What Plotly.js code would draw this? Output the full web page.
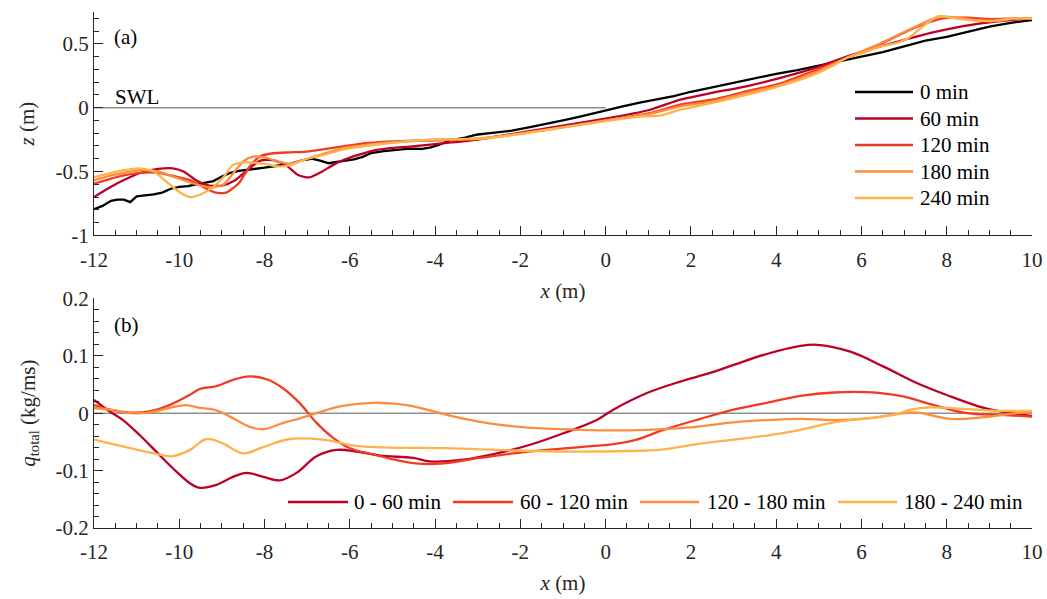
<!DOCTYPE html>
<html>
<head>
<meta charset="utf-8">
<script src="https://cdn.plot.ly/plotly-3.0.1.min.js"></script>
<style>
  html, body { margin: 0; padding: 0; background: #fff; }
  #chart { width: 1047px; height: 599px; }
</style>
</head>
<body>
<div id="chart"></div>
<script>
// ---------------- DATA ----------------
// Panel (a): bed profiles z(x)
const profileNames = ['0 min', '60 min', '120 min', '180 min', '240 min'];

const x0 = [-12, -11.8, -11.6, -11.45, -11.3, -11.15, -11.0, -10.8, -10.6, -10.4, -10.2, -10.0, -9.8, -9.6, -9.4, -9.2, -9.0, -8.8, -8.6, -8.3, -8.0, -7.7, -7.4, -7.1, -6.9, -6.7, -6.5, -6.3, -6.1, -5.9, -5.7, -5.5, -5.2, -4.9, -4.6, -4.3, -4.1, -3.9, -3.65, -3.3, -3.0, -2.6, -2.2, -1.8, -1.4, -1.0, -0.6, -0.3, 0, 0.4, 0.8, 1.2, 1.6, 2.0, 2.5, 3.0, 3.5, 4.0, 4.5, 5.0, 5.5, 6.0, 6.5, 7.0, 7.5, 8.0, 8.5, 9.0, 9.5, 10];
const z0 = [-0.795, -0.77, -0.73, -0.72, -0.72, -0.74, -0.695, -0.69, -0.68, -0.665, -0.635, -0.62, -0.615, -0.60, -0.585, -0.575, -0.54, -0.51, -0.495, -0.485, -0.47, -0.455, -0.44, -0.41, -0.40, -0.415, -0.435, -0.425, -0.415, -0.405, -0.385, -0.355, -0.34, -0.33, -0.32, -0.322, -0.31, -0.29, -0.255, -0.235, -0.21, -0.195, -0.18, -0.155, -0.13, -0.10, -0.07, -0.045, -0.02, 0.01, 0.04, 0.065, 0.09, 0.125, 0.16, 0.20, 0.235, 0.265, 0.295, 0.33, 0.36, 0.40, 0.435, 0.48, 0.525, 0.555, 0.595, 0.635, 0.665, 0.687];

const x60 = [-12, -11.6, -11.3, -10.9, -10.5, -10.15, -9.9, -9.6, -9.3, -9.0, -8.7, -8.35, -8.1, -7.8, -7.5, -7.2, -6.95, -6.65, -6.4, -6.15, -5.8, -5.45, -5.0, -4.6, -4.0, -3.0, -2.0, -1.0, 0, 1.0, 1.75, 2.5, 3.3, 4.1, 4.9, 5.65, 6.45, 7.2, 8.0, 8.8, 9.6, 10];
const z60 = [-0.70, -0.62, -0.567, -0.51, -0.48, -0.475, -0.50, -0.57, -0.61, -0.61, -0.57, -0.475, -0.415, -0.41, -0.45, -0.53, -0.546, -0.50, -0.45, -0.41, -0.37, -0.336, -0.315, -0.305, -0.285, -0.25, -0.195, -0.14, -0.085, -0.02, 0.063, 0.116, 0.168, 0.234, 0.31, 0.40, 0.48, 0.55, 0.614, 0.66, 0.69, 0.70];

const x120 = [-12, -11.6, -11.3, -10.9, -10.5, -10.15, -9.75, -9.45, -9.15, -8.9, -8.6, -8.35, -8.1, -7.8, -7.4, -7.0, -6.6, -6.2, -5.8, -5.0, -4.0, -3.0, -2.0, -1.0, 0, 1.0, 1.75, 2.5, 3.3, 4.1, 4.9, 5.65, 6.45, 7.2, 7.9, 8.5, 9.0, 9.6, 10];
const z120 = [-0.595, -0.555, -0.53, -0.51, -0.51, -0.535, -0.567, -0.62, -0.665, -0.666, -0.59, -0.46, -0.38, -0.357, -0.35, -0.344, -0.325, -0.305, -0.285, -0.265, -0.255, -0.245, -0.20, -0.15, -0.10, -0.045, 0.024, 0.063, 0.128, 0.19, 0.29, 0.39, 0.50, 0.62, 0.70, 0.705, 0.695, 0.70, 0.70];

const x180 = [-12, -11.6, -11.3, -10.9, -10.5, -10.15, -9.75, -9.45, -9.2, -8.95, -8.75, -8.5, -8.3, -8.0, -7.7, -7.4, -7.0, -6.6, -6.2, -5.8, -5.0, -4.0, -3.0, -2.0, -1.0, 0, 1.0, 1.75, 2.5, 3.3, 4.1, 4.9, 5.65, 6.45, 7.2, 7.85, 8.4, 8.8, 9.2, 9.6, 10];
const z180 = [-0.57, -0.53, -0.51, -0.49, -0.50, -0.54, -0.585, -0.615, -0.625, -0.60, -0.52, -0.42, -0.385, -0.39, -0.42, -0.44, -0.40, -0.36, -0.32, -0.30, -0.27, -0.25, -0.24, -0.205, -0.155, -0.10, -0.05, 0.01, 0.05, 0.115, 0.18, 0.275, 0.39, 0.505, 0.625, 0.715, 0.70, 0.68, 0.68, 0.70, 0.70];

const x240 = [-12, -11.6, -11.3, -10.95, -10.6, -10.3, -10.0, -9.75, -9.5, -9.2, -8.95, -8.75, -8.5, -8.0, -7.7, -7.4, -7.0, -6.6, -6.2, -5.85, -5.0, -4.0, -3.0, -2.0, -1.0, 0, 0.8, 1.3, 1.75, 2.5, 3.3, 4.1, 4.9, 5.3, 5.65, 6.05, 6.45, 6.85, 7.1, 7.45, 7.8, 8.2, 8.8, 9.2, 9.6, 10];
const z240 = [-0.545, -0.51, -0.49, -0.475, -0.50, -0.58, -0.66, -0.70, -0.68, -0.62, -0.54, -0.45, -0.43, -0.44, -0.46, -0.45, -0.40, -0.37, -0.33, -0.31, -0.275, -0.25, -0.245, -0.205, -0.155, -0.105, -0.07, -0.06, -0.016, 0.037, 0.10, 0.17, 0.26, 0.325, 0.39, 0.43, 0.48, 0.51, 0.545, 0.64, 0.715, 0.70, 0.68, 0.685, 0.70, 0.70];

// still water level reference (x from -12 to 0)
const swlX = [-12, 0];
const swlZ = [0, 0];

// Panel (b): total transport q_total(x)
const fluxNames = ['0 - 60 min', '60 - 120 min', '120 - 180 min', '180 - 240 min'];

const xq1 = [-12, -11.63, -11.32, -10.93, -10.54, -10.15, -9.75, -9.52, -9.13, -8.74, -8.42, -8.03, -7.64, -7.25, -6.78, -6.31, -5.84, -5.29, -4.51, -4.12, -3.34, -2.55, -1.77, -0.99, -0.21, 0.18, 0.97, 1.75, 2.45, 3.0, 3.78, 4.57, 4.96, 5.74, 6.52, 7.31, 8.09, 8.87, 9.26, 10];
const q1 = [0.023, 0.003, -0.012, -0.038, -0.067, -0.096, -0.122, -0.130, -0.125, -0.111, -0.104, -0.111, -0.117, -0.104, -0.075, -0.064, -0.067, -0.074, -0.078, -0.084, -0.081, -0.070, -0.055, -0.035, -0.012, 0.006, 0.035, 0.055, 0.07, 0.084, 0.103, 0.117, 0.119, 0.107, 0.081, 0.052, 0.029, 0.009, 0.003, -0.005];

const xq2 = [-12, -11.63, -11.16, -10.7, -10.23, -9.75, -9.52, -9.13, -8.74, -8.34, -7.95, -7.56, -7.17, -6.78, -6.39, -6.0, -5.45, -5.06, -4.51, -3.89, -2.95, -2.16, -1.38, -0.6, 0.18, 0.73, 1.36, 2.22, 3.0, 3.78, 4.57, 5.35, 6.13, 6.91, 7.7, 8.48, 9.26, 10];
const q2 = [0.014, 0.006, 0.001, 0.003, 0.014, 0.032, 0.042, 0.047, 0.058, 0.064, 0.059, 0.043, 0.017, -0.017, -0.043, -0.061, -0.072, -0.079, -0.087, -0.088, -0.078, -0.070, -0.064, -0.059, -0.054, -0.046, -0.029, -0.01, 0.006, 0.018, 0.030, 0.036, 0.0365, 0.030, 0.014, 0.0, -0.003, -0.006];

const xq3 = [-12, -11.63, -11.16, -10.7, -10.23, -9.83, -9.52, -9.13, -8.74, -8.34, -8.03, -7.56, -7.17, -6.78, -6.23, -5.45, -5.06, -4.51, -3.73, -2.95, -2.16, -1.38, -0.6, 0.18, 0.97, 1.75, 2.22, 3.0, 3.78, 4.57, 5.35, 6.13, 6.91, 7.31, 8.09, 8.87, 9.65, 10];
const q3 = [0.009, 0.006, 0.0, 0.001, 0.009, 0.014, 0.009, 0.005, -0.009, -0.024, -0.028, -0.017, -0.009, 0.0, 0.012, 0.018, 0.017, 0.012, -0.003, -0.015, -0.023, -0.027, -0.029, -0.030, -0.029, -0.026, -0.023, -0.016, -0.012, -0.010, -0.012, -0.009, -0.001, 0.001, -0.010, -0.007, 0.0, 0.002];

const xq4 = [-12, -11.32, -10.54, -10.15, -9.75, -9.36, -8.97, -8.5, -8.03, -7.41, -6.63, -5.84, -5.06, -3.73, -2.16, -0.6, 0.97, 1.36, 2.22, 3.0, 3.78, 4.57, 5.35, 6.13, 6.76, 7.15, 7.62, 8.48, 9.26, 10];
const q4 = [-0.046, -0.058, -0.071, -0.075, -0.064, -0.045, -0.053, -0.070, -0.059, -0.045, -0.046, -0.057, -0.060, -0.061, -0.065, -0.067, -0.065, -0.063, -0.053, -0.046, -0.039, -0.029, -0.016, -0.009, -0.003, 0.006, 0.010, 0.007, 0.004, 0.004];

const zeroX = [-12, 10];
const zeroQ = [0, 0];

// Tick labels
const xTickVals = [-12, -10, -8, -6, -4, -2, 0, 2, 4, 6, 8, 10];
const xTickText = ['-12', '-10', '-8', '-6', '-4', '-2', '0', '2', '4', '6', '8', '10'];
const zTickVals = [-1, -0.5, 0, 0.5];
const zTickText = ['-1', '-0.5', '0', '0.5'];
const qTickVals = [-0.2, -0.1, 0, 0.1, 0.2];
const qTickText = ['-0.2', '-0.1', '0', '0.1', '0.2'];

// ---------------- STYLE ----------------
const profileColors = ['#000000', '#bd0026', '#f03b20', '#fd8d3c', '#feb24c'];
const fluxColors = ['#bd0026', '#f03b20', '#fd8d3c', '#feb24c'];
const FONT = '"Liberation Serif"';
const AX = '#262626';
const FS = 21;

const profilesX = [x0, x60, x120, x180, x240];
const profilesZ = [z0, z60, z120, z180, z240];
const fluxX = [xq1, xq2, xq3, xq4];
const fluxQ = [q1, q2, q3, q4];

const traces = [];
traces.push({x: swlX, y: swlZ, xaxis: 'x', yaxis: 'y', mode: 'lines', line: {color: '#8f8f8f', width: 1.5}, showlegend: false, hoverinfo: 'skip'});
profilesX.forEach((xs, i) => {
  traces.push({
    x: xs, y: profilesZ[i], xaxis: 'x', yaxis: 'y', mode: 'lines', name: profileNames[i],
    line: i === 0 ? {color: profileColors[i], width: 2.3} : {color: profileColors[i], width: 2.3, shape: 'spline', smoothing: 0.6},
    showlegend: false
  });
});
traces.push({x: zeroX, y: zeroQ, xaxis: 'x2', yaxis: 'y2', mode: 'lines', line: {color: '#8f8f8f', width: 1.5}, showlegend: false, hoverinfo: 'skip'});
fluxX.forEach((xs, i) => {
  traces.push({
    x: xs, y: fluxQ[i], xaxis: 'x2', yaxis: 'y2', mode: 'lines', name: fluxNames[i],
    line: {color: fluxColors[i], width: 2.3, shape: 'spline', smoothing: 1},
    showlegend: false
  });
});

// plot-area helpers (paper coords) for manual legends
const L = 94, R = 15, T = 12, B = 71, W = 1047, H = 599;
const PW = W - L - R, PH = H - T - B;
const px2x = p => (p - L) / PW;
const py2y = p => (H - B - p) / PH;

const shapes = [];
const annotations = [];

// legend (a): vertical
profileNames.forEach((nm, i) => {
  const yy = py2y(92 + 26.5 * i);
  shapes.push({type: 'line', xref: 'paper', yref: 'paper', x0: px2x(855), x1: px2x(913), y0: yy, y1: yy, line: {color: profileColors[i], width: 2.5}});
  annotations.push({xref: 'paper', yref: 'paper', x: px2x(918), y: yy, xanchor: 'left', yanchor: 'middle', text: nm, showarrow: false, font: {family: FONT, size: FS, color: '#000'}});
});
// legend (b): horizontal
const legB = [[288, 348, 352], [453, 513, 518], [640, 699, 705], [838, 897, 902]];
fluxNames.forEach((nm, i) => {
  const yy = py2y(502);
  shapes.push({type: 'line', xref: 'paper', yref: 'paper', x0: px2x(legB[i][0]), x1: px2x(legB[i][1]), y0: yy, y1: yy, line: {color: fluxColors[i], width: 2.5}});
  annotations.push({xref: 'paper', yref: 'paper', x: px2x(legB[i][2]), y: yy, xanchor: 'left', yanchor: 'middle', text: nm, showarrow: false, font: {family: FONT, size: FS, color: '#000'}});
});

annotations.push({xref: 'paper', yref: 'paper', x: px2x(112), y: py2y(37), xanchor: 'left', yanchor: 'middle', text: '(a)', showarrow: false, font: {family: FONT, size: FS, color: '#000'}});
annotations.push({xref: 'paper', yref: 'paper', x: px2x(112), y: py2y(325), xanchor: 'left', yanchor: 'middle', text: '(b)', showarrow: false, font: {family: FONT, size: FS, color: '#000'}});
annotations.push({xref: 'paper', yref: 'paper', x: px2x(113), y: py2y(97), xanchor: 'left', yanchor: 'middle', text: 'SWL', showarrow: false, font: {family: FONT, size: FS, color: '#000'}});

function xAxis(anchor) {
  return {
    anchor: anchor, domain: [0, 1], range: [-12, 10], showgrid: false, zeroline: false,
    showline: true, linecolor: AX, linewidth: 1,
    ticks: 'inside', ticklen: 9, tickwidth: 1, tickcolor: AX,
    tickmode: 'array', tickvals: xTickVals, ticktext: xTickText,
    minor: {tickmode: 'linear', tick0: -12, dtick: 0.5, ticks: 'inside', ticklen: 5, tickwidth: 1, tickcolor: AX, showgrid: false},
    tickfont: {family: FONT, size: FS, color: AX},
    ticklabelstandoff: 5,
    title: {text: '<i>x</i> (m)', font: {family: FONT, size: FS, color: AX}, standoff: 12},
    automargin: false, fixedrange: true
  };
}

const layout = {
  width: W, height: H,
  margin: {l: L, r: R, t: T, b: B},
  paper_bgcolor: '#fff', plot_bgcolor: '#fff',
  font: {family: FONT, size: FS, color: AX},
  showlegend: false,
  xaxis: xAxis('y'),
  yaxis: {
    anchor: 'x', domain: [py2y(235.3), 1], range: [-1, 0.75], showgrid: false, zeroline: false,
    showline: true, linecolor: AX, linewidth: 1,
    ticks: 'inside', ticklen: 9, tickwidth: 1, tickcolor: AX,
    tickmode: 'array', tickvals: zTickVals, ticktext: zTickText,
    minor: {tickmode: 'linear', tick0: -1, dtick: 0.1, ticks: 'inside', ticklen: 5, tickwidth: 1, tickcolor: AX, showgrid: false},
    tickfont: {family: FONT, size: FS, color: AX},
    title: {text: '<i>z</i> (m)', font: {family: FONT, size: FS, color: AX}, standoff: 15},
    automargin: false, fixedrange: true
  },
  xaxis2: xAxis('y2'),
  yaxis2: {
    anchor: 'x2', domain: [0, py2y(298.3)], range: [-0.2, 0.2], showgrid: false, zeroline: false,
    showline: true, linecolor: AX, linewidth: 1,
    ticks: 'inside', ticklen: 9, tickwidth: 1, tickcolor: AX,
    tickmode: 'array', tickvals: qTickVals, ticktext: qTickText,
    minor: {tickmode: 'linear', tick0: -0.2, dtick: 0.02, ticks: 'inside', ticklen: 5, tickwidth: 1, tickcolor: AX, showgrid: false},
    tickfont: {family: FONT, size: FS, color: AX},
    title: {text: '<i>q</i><sub>total</sub> (kg/ms)', font: {family: FONT, size: FS, color: AX}, standoff: 14},
    automargin: false, fixedrange: true
  },
  shapes: shapes,
  annotations: annotations
};

Plotly.newPlot('chart', traces, layout, {staticPlot: true, displayModeBar: false});
</script>
</body>
</html>
